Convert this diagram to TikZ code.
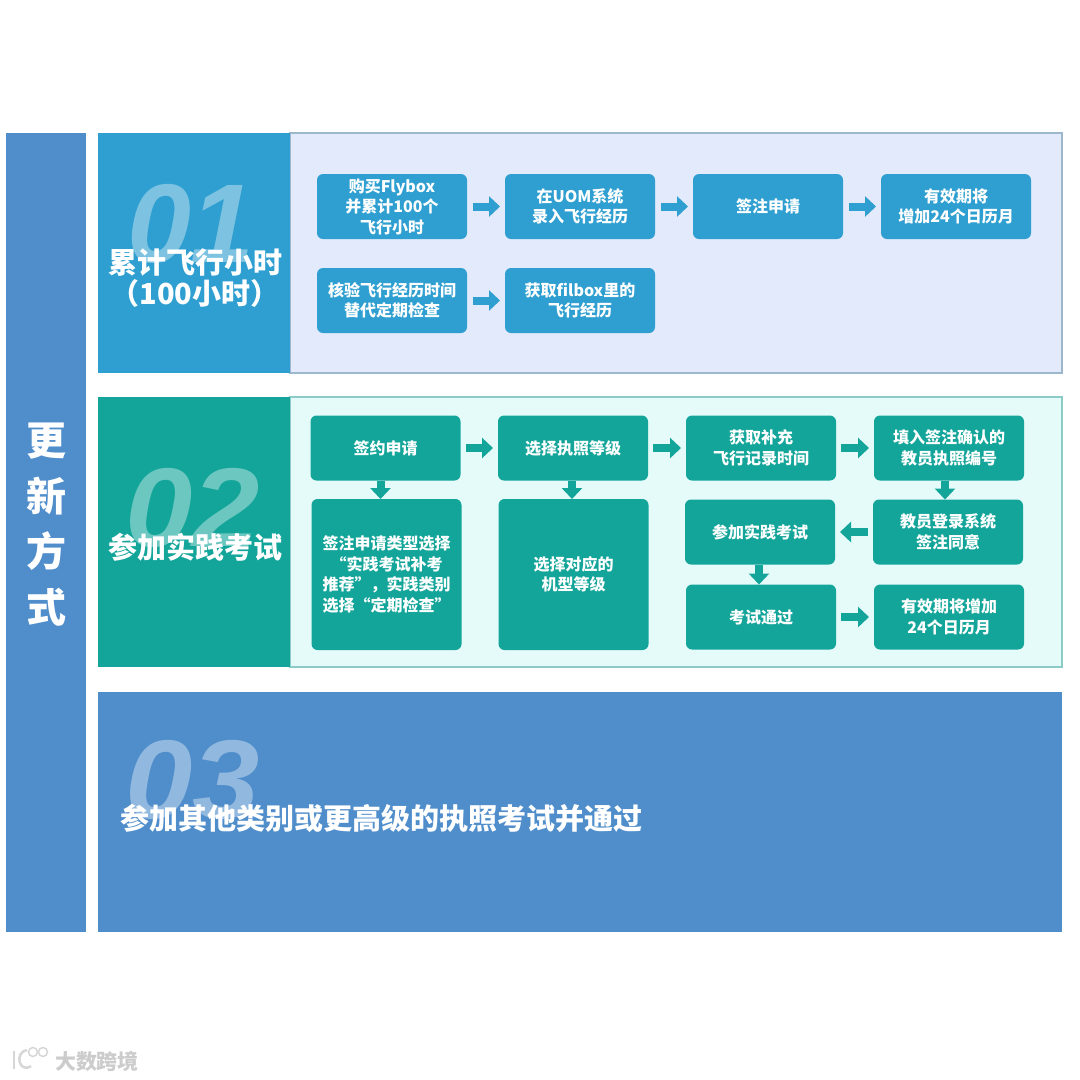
\documentclass[tikz,border=0pt]{standalone}
\usepackage{fontspec}
\usepackage{tikz}
\usetikzlibrary{arrows.meta}
\setmainfont{Noto Sans CJK SC}
\newfontfamily\numfont{Liberation Sans}

\definecolor{bluehead}{HTML}{2E9FD0}
\definecolor{bluepanel}{HTML}{E3EAFB}
\definecolor{blueline}{HTML}{9DB7CC}
\definecolor{greenhead}{HTML}{13A59A}
\definecolor{greenpanel}{HTML}{E4FBF9}
\definecolor{greenline}{HTML}{8CCBC6}
\definecolor{steelblue}{HTML}{4F8DCB}

\tikzset{
  plate/.style={inner sep=0pt,outer sep=0pt,text=white},
  panel/.style={draw,line width=1.5pt,inner sep=0pt,outer sep=0pt},
  stepbox/.style={rounded corners=6pt,inner sep=0pt,outer sep=0pt,minimum width=150pt,minimum height=65pt,
    text=white,align=center,font=\fontsize{16}{20.5}\selectfont\bfseries},
  bluebox/.style={stepbox,fill=bluehead},
  greenbox/.style={stepbox,fill=greenhead},
  flow/.style={line width=8pt,-{Triangle[width=20pt,length=11pt]}},
  blueflow/.style={flow,draw=bluehead},
  greenflow/.style={flow,draw=greenhead},
  bignum/.style={inner sep=0pt,xscale=1.08,text=white,text opacity=0.38,font=\fontsize{112}{112}\numfont\bfseries\itshape},
  headline/.style={inner sep=0pt,text=white,align=center,font=\fontsize{29}{31.5}\selectfont\bfseries},
  wmark/.style={inner sep=0pt,text=black!20,font=\fontsize{21}{21}\selectfont\bfseries}
}

\begin{document}
\begin{tikzpicture}[x=1pt,y=-1pt]
\useasboundingbox (0,0) rectangle (1080,1080);

% band on the left
\node[plate,fill=steelblue,minimum width=80pt,minimum height=799pt] (band) at (46,532.5) {};
\node[plate,align=center,font=\fontsize{40}{55.5}\selectfont\bfseries] (bandtext) at (46,524.5) {更\\新\\方\\式};

% section 01
\node[panel,draw=blueline,fill=bluepanel,minimum width=772pt,minimum height=240pt] (panelA) at (676,253) {};
\node[plate,fill=bluehead,minimum width=192pt,minimum height=240pt] (headA) at (194,253) {};
\node[bignum,xscale=0.95] (numA) at (191,224) {01};
\node[headline] (titleA) at (195,278) {累计飞行小时\\（100小时）};

\node[bluebox] (buy) at (392,206.5) {购买Flybox\\并累计100个\\飞行小时};
\node[bluebox] (uom) at (580,206.5) {在UOM系统\\录入飞行经历};
\node[bluebox] (apply) at (768,206.5) {签注申请};
\node[bluebox] (valid) at (956,206.5) {有效期将\\增加24个日历月};
\node[bluebox] (check) at (392,300.5) {核验飞行经历时间\\替代定期检查};
\node[bluebox] (fetch) at (580,300.5) {获取filbox里的\\飞行经历};

\draw[blueflow,shorten <=6pt,shorten >=5pt] (buy) -- (uom);
\draw[blueflow,shorten <=6pt,shorten >=5pt] (uom) -- (apply);
\draw[blueflow,shorten <=6pt,shorten >=5pt] (apply) -- (valid);
\draw[blueflow,shorten <=6pt,shorten >=5pt] (check) -- (fetch);

% section 02
\node[panel,draw=greenline,fill=greenpanel,minimum width=772pt,minimum height=270pt] (panelB) at (676,532) {};
\node[plate,fill=greenhead,minimum width=192pt,minimum height=270pt] (headB) at (194,532) {};
\node[bignum] (numB) at (193,508) {02};
\node[headline] (titleB) at (195,547) {参加实践考试};

\node[greenbox] (sign) at (385.5,448) {签约申请};
\node[greenbox] (grade) at (573,448) {选择执照等级};
\node[greenbox] (extra) at (761,448) {获取补充\\飞行记录时间};
\node[greenbox] (fill) at (949,448) {填入签注确认的\\教员执照编号};
\node[greenbox,minimum height=151pt] (kind) at (386.5,574.5) {签注申请类型选择\\“实践考试补考\\推荐”，实践类别\\选择“定期检查”};
\node[greenbox,minimum height=151pt] (model) at (573.5,574.5) {选择对应的\\机型等级};
\node[greenbox] (exam) at (760,532) {参加实践考试};
\node[greenbox] (agree) at (948,532) {教员登录系统\\签注同意};
\node[greenbox] (pass) at (761,617) {考试通过};
\node[greenbox] (renew) at (949,617) {有效期将增加\\24个日历月};

\draw[greenflow,shorten <=5pt,shorten >=5pt] (sign) -- (grade);
\draw[greenflow,shorten <=5pt,shorten >=5pt] (grade) -- (extra);
\draw[greenflow,shorten <=5pt,shorten >=5pt] (extra) -- (fill);
\draw[greenflow,shorten <=5pt,shorten >=5pt] (agree) -- (exam);
\draw[greenflow,shorten <=5pt,shorten >=5pt] (pass) -- (renew);
\draw[greenflow] ([xshift=-5pt]sign.south) -- ([xshift=-6pt]kind.north);
\draw[greenflow] ([xshift=-1pt]grade.south) -- ([xshift=-1.5pt]model.north);
\draw[greenflow] ([xshift=-4pt]fill.south) -- ([xshift=-3pt]agree.north);
\draw[greenflow] ([xshift=-1pt]exam.south) -- ([xshift=-2pt]pass.north);

% section 03
\node[plate,fill=steelblue,minimum width=964pt,minimum height=240pt] (headC) at (580,812) {};
\node[bignum] (numC) at (193,780) {03};
\node[headline,anchor=west] (titleC) at (120,818) {参加其他类别或更高级的执照考试并通过};

% watermark
\draw[black!16,line width=2.5pt] (14,1051) -- (14,1069);
\draw[black!16,line width=2.5pt] (31,1066) .. controls (19,1074) and (14,1052) .. (27,1050);
\draw[black!16,line width=1.5pt] (33,1052) circle (4.5);
\draw[black!16,line width=1.5pt] (43,1052) circle (4.5);
\node[wmark] (wtext) at (97,1061) {大数跨境};

\end{tikzpicture}
\end{document}
